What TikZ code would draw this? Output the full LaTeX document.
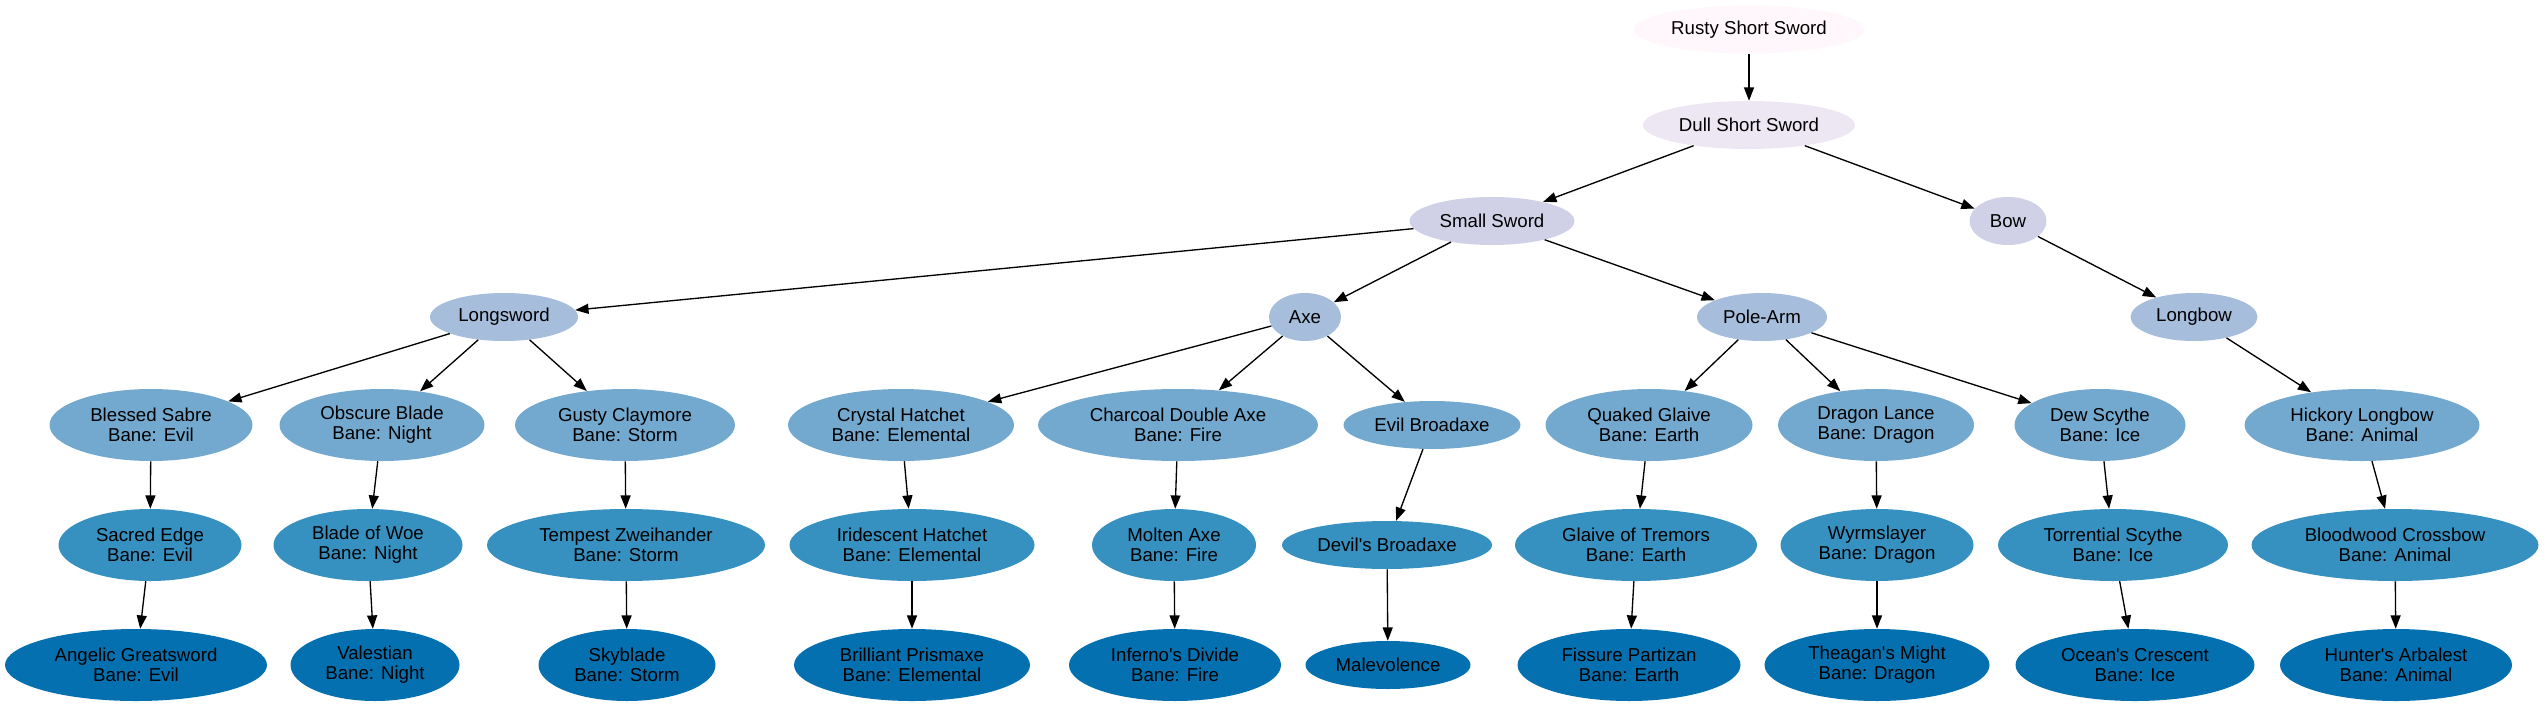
\documentclass[tikz,border=0pt]{standalone}
\usepackage{fontspec}
\setmainfont{Liberation Sans}
\usetikzlibrary{shapes.geometric,arrows.meta}
\definecolor{cA}{HTML}{FFF7FB}
\definecolor{cB}{HTML}{ECE7F2}
\definecolor{cC}{HTML}{D0D1E6}
\definecolor{cD}{HTML}{A6BDDB}
\definecolor{cE}{HTML}{74A9CF}
\definecolor{cF}{HTML}{3690C0}
\definecolor{cG}{HTML}{0570B0}
\newcommand{\ap}{\textquotesingle}
\tikzset{
  item/.style={ellipse, inner sep=0pt, draw=none, align=center, text=black,
    font=\fontsize{14}{15}\selectfont, minimum height=36pt},
  two/.style={minimum height=54pt},
  lvA/.style={item, fill=cA}, lvB/.style={item, fill=cB}, lvC/.style={item, fill=cC},
  lvD/.style={item, fill=cD}, lvE/.style={item, fill=cE}, lvF/.style={item, fill=cF},
  lvG/.style={item, fill=cG},
  link/.style={draw=black, line width=1pt, -{Triangle[length=10pt,width=7.5pt]}}
}
\begin{document}
\begin{tikzpicture}[x=0.75pt, y=-0.75pt]
\useasboundingbox (0,0) rectangle (2544,707);
% level 0-3
\node[lvA, minimum width=173.25pt] (rusty) at (1749,29.5) {Rusty Short Sword};
\node[lvB, minimum width=159pt] (dull) at (1749,125) {Dull Short Sword};
\node[lvC, minimum width=123.75pt] (small) at (1492,221) {Small Sword};
\node[lvC, minimum width=57.75pt] (bow) at (2008,221) {Bow};
\node[lvD, minimum width=111pt] (longsword) at (504,317) {Longsword};
\node[lvD, minimum width=54pt] (axe) at (1305,317) {Axe};
\node[lvD, minimum width=97.5pt] (polearm) at (1762,317) {Pole-Arm};
\node[lvD, minimum width=95.25pt] (longbow) at (2194,317) {Longbow};
% level 4
\node[lvE, two, minimum width=152.25pt] (blessed) at (151,425) {Blessed Sabre\\Bane: Evil};
\node[lvE, two, minimum width=153.75pt] (obscure) at (382,425) {Obscure Blade\\Bane: Night};
\node[lvE, two, minimum width=165pt] (gusty) at (625,425) {Gusty Claymore\\Bane: Storm};
\node[lvE, two, minimum width=169.5pt] (crystal) at (901,425) {Crystal Hatchet\\Bane: Elemental};
\node[lvE, two, minimum width=210pt] (charcoal) at (1178,425) {Charcoal Double Axe\\Bane: Fire};
\node[lvE, minimum width=132.75pt] (evilbroad) at (1432,425) {Evil Broadaxe};
\node[lvE, two, minimum width=155.25pt] (quaked) at (1649,425) {Quaked Glaive\\Bane: Earth};
\node[lvE, two, minimum width=147pt] (dlance) at (1876,425) {Dragon Lance\\Bane: Dragon};
\node[lvE, two, minimum width=128.25pt] (dew) at (2100,425) {Dew Scythe\\Bane: Ice};
\node[lvE, two, minimum width=176.25pt] (hickory) at (2362,425) {Hickory Longbow\\Bane: Animal};
% level 5
\node[lvF, two, minimum width=137.25pt] (sacred) at (150,545) {Sacred Edge\\Bane: Evil};
\node[lvF, two, minimum width=141.75pt] (woe) at (368,545) {Blade of Woe\\Bane: Night};
\node[lvF, two, minimum width=208.5pt] (tempest) at (626,545) {Tempest Zweihander\\Bane: Storm};
\node[lvF, two, minimum width=183.75pt] (irid) at (912,545) {Iridescent Hatchet\\Bane: Elemental};
\node[lvF, two, minimum width=123pt] (molten) at (1174,545) {Molten Axe\\Bane: Fire};
\node[lvF, minimum width=157.5pt] (devils) at (1387,545) {Devil\ap s Broadaxe};
\node[lvF, two, minimum width=181.5pt] (tremors) at (1636,545) {Glaive of Tremors\\Bane: Earth};
\node[lvF, two, minimum width=144.75pt] (wyrm) at (1877,545) {Wyrmslayer\\Bane: Dragon};
\node[lvF, two, minimum width=172.5pt] (torrent) at (2113,545) {Torrential Scythe\\Bane: Ice};
\node[lvF, two, minimum width=215.25pt] (blood) at (2395,545) {Bloodwood Crossbow\\Bane: Animal};
% level 6
\node[lvG, two, minimum width=196.5pt] (angelic) at (136,665) {Angelic Greatsword\\Bane: Evil};
\node[lvG, two, minimum width=126.75pt] (vales) at (375,665) {Valestian\\Bane: Night};
\node[lvG, two, minimum width=132.75pt] (sky) at (627,665) {Skyblade\\Bane: Storm};
\node[lvG, two, minimum width=177pt] (brill) at (912,665) {Brilliant Prismaxe\\Bane: Elemental};
\node[lvG, two, minimum width=159pt] (inferno) at (1175,665) {Inferno\ap s Divide\\Bane: Fire};
\node[lvG, minimum width=123.75pt] (male) at (1388,665) {Malevolence};
\node[lvG, two, minimum width=167.25pt] (fissure) at (1629,665) {Fissure Partizan\\Bane: Earth};
\node[lvG, two, minimum width=168.75pt] (theagan) at (1877,665) {Theagan\ap s Might\\Bane: Dragon};
\node[lvG, two, minimum width=179.25pt] (ocean) at (2135,665) {Ocean\ap s Crescent\\Bane: Ice};
\node[lvG, two, minimum width=174pt] (hunter) at (2396,665) {Hunter\ap s Arbalest\\Bane: Animal};
% edges
\draw[link] (rusty) -- (dull);
\draw[link] (dull) -- (small);
\draw[link] (dull) -- (bow);
\draw[link] (small) -- (longsword);
\draw[link] (small) -- (axe);
\draw[link] (small) -- (polearm);
\draw[link] (bow) -- (longbow);
\draw[link] (longsword) -- (blessed);
\draw[link] (longsword) -- (obscure);
\draw[link] (longsword) -- (gusty);
\draw[link] (axe) -- (crystal);
\draw[link] (axe) -- (charcoal);
\draw[link] (axe) -- (evilbroad);
\draw[link] (polearm) -- (quaked);
\draw[link] (polearm) -- (dlance);
\draw[link] (polearm) -- (dew);
\draw[link] (longbow) -- (hickory);
\draw[link] (blessed) -- (sacred);
\draw[link] (obscure) -- (woe);
\draw[link] (gusty) -- (tempest);
\draw[link] (crystal) -- (irid);
\draw[link] (charcoal) -- (molten);
\draw[link] (evilbroad) -- (devils);
\draw[link] (quaked) -- (tremors);
\draw[link] (dlance) -- (wyrm);
\draw[link] (dew) -- (torrent);
\draw[link] (hickory) -- (blood);
\draw[link] (sacred) -- (angelic);
\draw[link] (woe) -- (vales);
\draw[link] (tempest) -- (sky);
\draw[link] (irid) -- (brill);
\draw[link] (molten) -- (inferno);
\draw[link] (devils) -- (male);
\draw[link] (tremors) -- (fissure);
\draw[link] (wyrm) -- (theagan);
\draw[link] (torrent) -- (ocean);
\draw[link] (blood) -- (hunter);
\end{tikzpicture}
\end{document}
